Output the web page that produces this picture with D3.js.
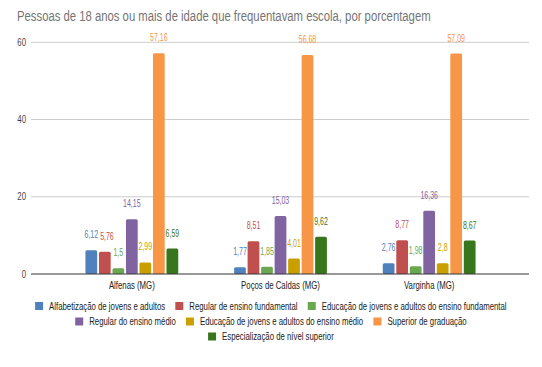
<!DOCTYPE html>
<html>
<head>
<meta charset="utf-8">
<script src="https://cdn.jsdelivr.net/npm/d3@7"></script>
<style>
  html, body { margin: 0; padding: 0; background: #fff; }
  svg { display: block; font-family: "Liberation Sans", Arial, sans-serif; }
</style>
</head>
<body>
<svg id="chart" width="542" height="367"></svg>
<script>
const title = "Pessoas de 18 anos ou mais de idade que frequentavam escola, por porcentagem";
const categories = ["Alfenas (MG)", "Poços de Caldas (MG)", "Varginha (MG)"];
const seriesNames = [
  "Alfabetização de jovens e adultos",
  "Regular de ensino fundamental",
  "Educação de jovens e adultos do ensino fundamental",
  "Regular do ensino médio",
  "Educação de jovens e adultos do ensino médio",
  "Superior de graduação",
  "Especialização de nível superior"
];
const seriesColors = ["#4f81bd", "#c0504d", "#6aa84f", "#8064a2", "#c9a000", "#f79646", "#38761d"];
const alfabetizacao = [6.12, 1.77, 2.76];
const regularFundamental = [5.76, 8.51, 8.77];
const ejaFundamental = [1.5, 1.85, 1.98];
const regularMedio = [14.15, 15.03, 16.36];
const ejaMedio = [2.99, 4.01, 2.8];
const superiorGraduacao = [57.16, 56.68, 57.09];
const especializacao = [6.59, 9.62, 8.67];
const yTicks = [0, 20, 40, 60];

const seriesValues = [alfabetizacao, regularFundamental, ejaFundamental, regularMedio, ejaMedio, superiorGraduacao, especializacao];

const K = 0.78;   // horizontal text compression
const KV = 0.7;   // compression for value labels
const svg = d3.select("#chart");

function txt(sel, x, y, s, opts) {
  const k = opts.k || K;
  return sel.append("text")
    .attr("transform", `translate(${x},${y}) scale(${k},1)`)
    .attr("text-anchor", opts.anchor || "start")
    .attr("font-size", opts.size)
    .attr("fill", opts.fill)
    .text(s);
}

const y = d3.scaleLinear().domain([0, 60]).range([274, 42.3]);
const x0 = d3.scaleBand().domain(categories).range([57.5, 503.5]).padding(0);
const x1 = d3.scaleBand().domain(seriesNames).range([-46.4, 46.4]).paddingInner(0.13);

// title
txt(svg, 17, 21, title, { size: 14.5, fill: "#757575" });

// gridlines
const gx0 = 31, gx1 = 529;
svg.append("g").selectAll("line").data(yTicks.filter(d => d !== 0)).join("line")
  .attr("x1", gx0).attr("x2", gx1)
  .attr("y1", d => y(d)).attr("y2", d => y(d))
  .attr("stroke", "#cccccc").attr("stroke-width", 1);

// y tick labels
yTicks.forEach(t => txt(svg, 26, y(t) + 3.5, String(t), { size: 10, fill: "#444", anchor: "end" }));

const measurer = svg.append("text").attr("font-size", 10);
function textW(s, size, k) {
  measurer.attr("font-size", size).text(s);
  return measurer.node().getComputedTextLength() * (k || K);
}

// bars
const groups = svg.append("g").selectAll("g").data(categories).join("g")
  .attr("transform", d => `translate(${x0(d) + x0.bandwidth() / 2},0)`);

groups.each(function (cat, ci) {
  const g = d3.select(this);
  seriesNames.forEach((s, si) => {
    const v = seriesValues[si][ci];
    g.append("rect")
      .attr("x", x1(s)).attr("width", x1.bandwidth())
      .attr("y", y(v)).attr("height", y(0) - y(v))
      .attr("rx", 1.5)
      .attr("fill", seriesColors[si]);
  });
  // value labels with simple horizontal collision avoidance
  const placed = [];
  seriesNames.forEach((s, si) => {
    const v = seriesValues[si][ci];
    const label = String(v).replace(".", ",");
    const w = textW(label, 10, KV);
    let cx = x1(s) + x1.bandwidth() / 2;
    const ly = y(v) - 12;
    placed.forEach(p => {
      const vOverlap = Math.abs(p.y - ly) < 10;
      const left = cx - w / 2, pRight = p.x + p.w / 2;
      if (vOverlap && left < pRight + 2) cx += (pRight + 2 - left);
    });
    placed.push({ x: cx, y: ly, w });
    txt(g, cx, ly, label, { size: 10, fill: seriesColors[si], anchor: "middle", k: KV });
  });
});

// zero line
svg.append("line").attr("x1", gx0).attr("x2", gx1).attr("y1", y(0)).attr("y2", y(0))
  .attr("stroke", "#333").attr("stroke-width", 1);

// category labels
categories.forEach(c => txt(svg, x0(c) + x0.bandwidth() / 2, 289, c, { size: 10, fill: "#222", anchor: "middle" }));

// legend
const legendCenter = 271, maxRow = 480, sq = 8, gapSq = 6, gapItem = 10;
const lg = svg.append("g");
const items = seriesNames.map((n, i) => ({ n, i, w: sq + gapSq + textW(n, 10) }));
measurer.remove();
const rows = [];
let cur = [], curW = 0;
items.forEach(it => {
  const add = (cur.length ? gapItem : 0) + it.w;
  if (cur.length && curW + add > maxRow) { rows.push({ items: cur, w: curW }); cur = [it]; curW = it.w; }
  else { cur.push(it); curW += add; }
});
if (cur.length) rows.push({ items: cur, w: curW });
const rowY = [306, 321.5, 336.5];
rows.forEach((r, ri) => {
  let xx = legendCenter - r.w / 2;
  r.items.forEach(it => {
    lg.append("rect").attr("x", xx).attr("y", rowY[ri] - sq / 2).attr("width", sq).attr("height", sq)
      .attr("fill", seriesColors[it.i]);
    txt(lg, xx + sq + gapSq, rowY[ri] + 3.5, it.n, { size: 10, fill: "#222" });
    xx += it.w + gapItem;
  });
});
</script>
</body>
</html>
